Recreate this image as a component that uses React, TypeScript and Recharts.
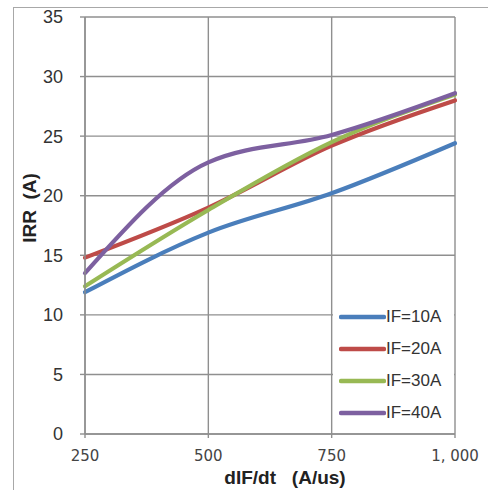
import React from 'react';
import { LineChart, Line, XAxis, YAxis, CartesianGrid, Label } from 'recharts';

// Reverse recovery current vs. current slope, one curve per forward current
const dIFdt = [250, 500, 750, 1000];
const irrIF10 = [11.9, 16.9, 20.2, 24.4];
const irrIF20 = [14.8, 19.0, 24.2, 28.0];
const irrIF30 = [12.4, 18.8, 24.5, 28.5];
const irrIF40 = [13.5, 22.8, 25.1, 28.6];

const seriesNames = ['IF=10A', 'IF=20A', 'IF=30A', 'IF=40A'];
const seriesColors = ['#4a7ebb', '#be4b48', '#98b954', '#7d60a0'];
const seriesKeys = ['if10', 'if20', 'if30', 'if40'];

const xTicks = [250, 500, 750, 1000];
const yTicks = [0, 5, 10, 15, 20, 25, 30, 35];

const data = dIFdt.map((x, i) => ({
  x,
  if10: irrIF10[i],
  if20: irrIF20[i],
  if30: irrIF30[i],
  if40: irrIF40[i],
}));

const GRID = '#8f8f8f';

const formatX = (v: number) => v.toLocaleString('en-US').replace(',', ', ');

// Legend box sitting on the plot between the 750 and 1,000 gridlines
const LegendBox = () => (
  <div
    style={{
      position: 'absolute',
      left: 333,
      top: 297,
      width: 121,
      height: 135,
      background: '#fff',
    }}
  >
    {seriesNames.map((name, i) => (
      <div
        key={name}
        style={{
          position: 'absolute',
          left: 6,
          top: 11 + i * 32,
          display: 'flex',
          alignItems: 'center',
          height: 18,
        }}
      >
        <svg width={47} height={8} style={{ display: 'block' }}>
          <line x1={2} y1={4} x2={45} y2={4} stroke={seriesColors[i]} strokeWidth={4.5} strokeLinecap="round" />
        </svg>
        <span
          style={{
            fontFamily: 'Liberation Sans, Arial, sans-serif',
            fontSize: 17,
            color: '#333',
            marginLeft: 0,
            lineHeight: '18px',
          }}
        >
          {name}
        </span>
      </div>
    ))}
  </div>
);

export default function App() {
  return (
    <div style={{ position: 'absolute', left: 0, top: 0, width: 488, height: 490, background: '#fff', overflow: 'hidden' }}>
      <div
        style={{
          position: 'absolute',
          left: 13,
          top: 7,
          width: 490,
          height: 500,
          borderLeft: '1px solid #a8a8a8',
          borderTop: '1px solid #a8a8a8',
          boxSizing: 'border-box',
        }}
      />
      <LineChart
        width={488}
        height={490}
        data={data}
        margin={{ top: 17, right: 33, left: 0, bottom: 0 }}
        style={{ position: 'absolute', left: 0, top: 0 }}
      >
        <CartesianGrid stroke={GRID} strokeWidth={1.4} />
        <XAxis
          dataKey="x"
          type="number"
          domain={[250, 1000]}
          ticks={xTicks}
          tickFormatter={formatX}
          height={56}
          stroke={GRID}
          strokeWidth={1.4}
          tickSize={4}
          tickMargin={12}
          tick={{ fontFamily: 'DejaVu Sans, sans-serif', fontSize: 15, fill: '#444' }}
        >
          <Label
            content={({ viewBox }: any) => (
              <text
                x={viewBox.x + viewBox.width / 2 + 15}
                y={viewBox.y + 50}
                textAnchor="middle"
                style={{ whiteSpace: 'pre' }}
                fontFamily="Liberation Sans, Arial, sans-serif"
                fontWeight="bold"
                fontSize={19}
                fill="#222"
              >
                {'dIF/dt   (A/us)'}
              </text>
            )}
          />
        </XAxis>
        <YAxis
          type="number"
          domain={[0, 35]}
          ticks={yTicks}
          width={85}
          stroke={GRID}
          strokeWidth={1.4}
          tickSize={5}
          tickMargin={17}
          tick={{ fontFamily: 'Liberation Sans, Arial, sans-serif', fontSize: 18, fill: '#333' }}
        >
          <Label
            content={() => (
              <text
                x={0}
                y={0}
                transform="translate(36 208) rotate(-90)"
                textAnchor="middle"
                style={{ whiteSpace: 'pre' }}
                fontFamily="Liberation Sans, Arial, sans-serif"
                fontWeight="bold"
                fontSize={19}
                fill="#222"
              >
                {'IRR  (A)'}
              </text>
            )}
          />
        </YAxis>
        {seriesKeys.map((k, i) => (
          <Line
            key={k}
            dataKey={k}
            name={seriesNames[i]}
            type="monotone"
            stroke={seriesColors[i]}
            strokeWidth={4.2}
            strokeLinecap="round"
            dot={false}
            activeDot={false}
            isAnimationActive={false}
          />
        ))}
      </LineChart>
      <LegendBox />
    </div>
  );
}
